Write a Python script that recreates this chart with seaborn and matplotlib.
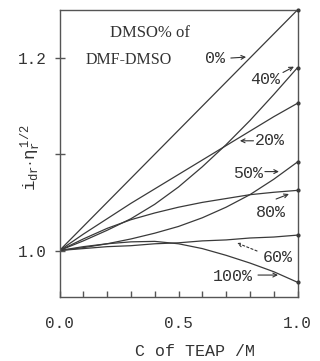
import numpy as np
import pandas as pd
import matplotlib
matplotlib.use("Agg")
import matplotlib.pyplot as plt
import seaborn as sns

# ---- data ----
conc = [0.0, 0.1, 0.2, 0.3, 0.4, 0.5, 0.6, 0.7, 0.8, 0.9, 1.0]
dmso_0 = [1.000, 1.025, 1.050, 1.075, 1.100, 1.125, 1.150, 1.175, 1.200, 1.225, 1.250]
dmso_40 = [1.000, 1.010, 1.021, 1.033, 1.048, 1.066, 1.087, 1.110, 1.135, 1.162, 1.190]
dmso_20 = [1.000, 1.017, 1.033, 1.049, 1.064, 1.079, 1.094, 1.109, 1.124, 1.139, 1.153]
dmso_50 = [1.000, 1.003, 1.007, 1.012, 1.018, 1.025, 1.034, 1.045, 1.058, 1.074, 1.092]
dmso_80 = [1.000, 1.012, 1.023, 1.032, 1.039, 1.045, 1.050, 1.054, 1.058, 1.0605, 1.0625]
dmso_60 = [1.000, 1.002, 1.004, 1.005, 1.007, 1.008, 1.010, 1.011, 1.013, 1.014, 1.016]
dmso_100 = [1.000, 1.004, 1.007, 1.009, 1.0095, 1.007, 1.002, 0.995, 0.987, 0.978, 0.967]

series_names = ["0%", "40%", "20%", "50%", "80%", "60%", "100%"]
series_vals = [dmso_0, dmso_40, dmso_20, dmso_50, dmso_80, dmso_60, dmso_100]

x_ticks = [0.0, 0.5, 1.0]
x_ticklabels = ["0.0", "0.5", "1.0"]
y_ticks = [1.0, 1.1, 1.2]
y_ticklabels = ["1.0", "", "1.2"]

rows = []
for name, vals in zip(series_names, series_vals):
    for c, v in zip(conc, vals):
        rows.append({"C": c, "val": v, "DMSO": name})
df = pd.DataFrame(rows)

# ---- style ----
sns.set_style("ticks")
MONO = ["Liberation Mono", "DejaVu Sans Mono"]
SERIF = ["Liberation Serif", "DejaVu Serif"]
plt.rcParams["font.family"] = MONO
plt.rcParams["mathtext.fontset"] = "custom"
plt.rcParams["mathtext.rm"] = "Liberation Mono"
plt.rcParams["mathtext.it"] = "Liberation Mono"
INK = "#3a3a3a"

fig = plt.figure(figsize=(3.20, 3.61), dpi=100)
fig.patch.set_facecolor("white")
ax = fig.add_axes([59.5 / 320, 1 - 297 / 361, 238 / 320, 287 / 361])

sns.lineplot(data=df, x="C", y="val", hue="DMSO",
             palette={n: INK for n in series_names}, legend=False,
             linewidth=0.9, ax=ax, estimator=None, sort=True)

# end dots on the right axis
ends = df[df["C"] == 1.0]
ax.scatter(ends["C"], ends["val"], s=4, color=INK, zorder=5, clip_on=False)

ax.set_xlim(0.0, 1.0)
ax.set_ylim(0.9517, 1.2499)

for sp in ax.spines.values():
    sp.set_visible(True)
    sp.set_color("#555555")
    sp.set_linewidth(1.0)

ax.set_xticks(x_ticks)
ax.set_xticklabels(x_ticklabels)
ax.set_xticks(np.arange(0.1, 1.0, 0.1), minor=True)
ax.tick_params(axis="x", which="both", direction="in", length=4, width=1,
               color="#555555", pad=14, labelsize=11.5, labelcolor="#333333")
ax.set_yticks(y_ticks)
ax.set_yticklabels(y_ticklabels)
ax.tick_params(axis="y", which="major", direction="inout", length=7, width=1,
               color="#555555", pad=6, labelsize=11.5, labelcolor="#333333")

ax.set_xlabel("C of TEAP /M", fontsize=12, color="#333333")
ax.xaxis.set_label_coords(0.569, -0.19)
ax.xaxis.label.set_va("center")
ax.set_ylabel(r"$\mathrm{i_{dr}\!\cdot\!\eta_r^{\;1/2}}$", fontsize=12.5, color="#333333")
ax.yaxis.set_label_coords(-0.12, 0.484)
ax.yaxis.label.set_va("center")

tc = "#333333"
fs = 12
ax.text(0.380, 1.226, "DMSO% of", ha="center", va="center", fontsize=12,
        color=tc, family=SERIF)
ax.text(0.292, 1.198, "DMF-DMSO", ha="center", va="center", fontsize=11.5,
        color=tc, family=SERIF)

ap = dict(arrowstyle="->", color=tc, lw=0.8, shrinkA=0, shrinkB=0, mutation_scale=7)
labels = [
    ("0%", 0.653, 1.200, (0.720, 1.200), (0.784, 1.201)),
    ("40%", 0.863, 1.178, (0.939, 1.185), (0.985, 1.191)),
    ("20%", 0.885, 1.114, (0.815, 1.114), (0.758, 1.114)),
    ("50%", 0.792, 1.0805, (0.863, 1.082), (0.922, 1.082)),
    ("80%", 0.888, 1.040, (0.910, 1.0535), (0.964, 1.0587)),
    ("60%", 0.918, 0.993, (0.830, 0.9995), (0.746, 1.0078)),
    ("100%", 0.729, 0.9735, (0.834, 0.9745), (0.918, 0.9745)),
]
for txt, tx, ty, a0, a1 in labels:
    ax.text(tx, ty, txt, ha="center", va="center", fontsize=fs, color=tc)
    props = dict(ap)
    if txt == "60%":
        props["linestyle"] = (0, (2, 2))
    ax.annotate("", xy=a1, xytext=a0, arrowprops=props)

fig.savefig("out.png", dpi=100, facecolor="white")
